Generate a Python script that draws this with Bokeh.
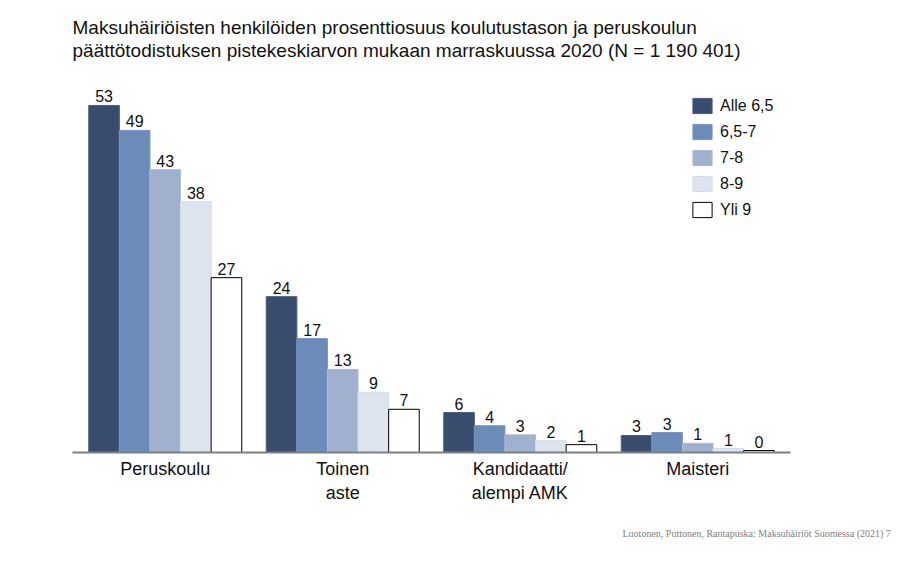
from bokeh.plotting import figure
from bokeh.models import ColumnDataSource, Range1d, FactorRange, Title, Legend, LegendItem, Label
from bokeh.transform import dodge
from bokeh.core.properties import value
from bokeh.embed import file_html
from bokeh.resources import INLINE

# ---- data ----
categories = ["Peruskoulu", "Toinen\naste", "Kandidaatti/\nalempi AMK", "Maisteri"]
series_names = ["Alle 6,5", "6,5-7", "7-8", "8-9", "Yli 9"]
alle_65 = [53.0, 23.8, 6.1, 2.6]
v65_7 = [49.2, 17.4, 4.1, 3.05]
v7_8 = [43.2, 12.7, 2.7, 1.4]
v8_9 = [38.3, 9.2, 1.8, 0.6]
yli_9 = [26.7, 6.6, 1.2, 0.3]
series_values = [alle_65, v65_7, v7_8, v8_9, yli_9]

title_line1 = "Maksuhäiriöisten henkilöiden prosenttiosuus koulutustason ja peruskoulun"
title_line2 = "päättötodistuksen pistekeskiarvon mukaan marraskuussa 2020 (N = 1 190 401)"
credit = "Luotonen, Puttonen, Rantapuska: Maksuhäiriöt Suomessa (2021) 7"

fills = ["#384c6d", "#6b8bb9", "#9fb1cf", "#dde4ef", "#ffffff"]
lines = ["#4a5d7e", "#7b98c2", "#aebdd7", "#d3dbe8", "#000000"]

FONT = "Liberation Sans"

data = {"cat": categories}
for i, vals in enumerate(series_values):
    data[f"s{i}"] = vals
    data[f"l{i}"] = [str(int(round(v))) for v in vals]
source = ColumnDataSource(data)

p = figure(width=898, height=559, output_backend="svg", toolbar_location=None,
           x_range=FactorRange(*categories, range_padding=0.0225, range_padding_units="absolute"),
           y_range=Range1d(0, 67.5),
           min_border_left=72, min_border_right=108,
           min_border_top=10, min_border_bottom=107)
p.outline_line_color = None
p.grid.visible = False
p.yaxis.visible = False
p.background_fill_color = "white"

bw = 0.1724
items = []
for i in range(5):
    off = (i - 2) * bw
    r = p.vbar(x=dodge("cat", off, range=p.x_range), top=f"s{i}", width=bw, bottom=0,
               source=source, fill_color=fills[i], line_color=lines[i], line_width=1)
    items.append(LegendItem(label=series_names[i], renderers=[r]))
    p.text(x=dodge("cat", off, range=p.x_range), y=f"s{i}", text=f"l{i}", source=source,
           text_align="center", text_baseline="alphabetic", y_offset=-9,
           text_font=value(FONT), text_font_size="16px", text_color="#111111")

legend = Legend(items=items, location=(618, 233), orientation="vertical",
                glyph_width=24, glyph_height=19, label_height=19, spacing=7,
                padding=0, margin=0, label_standoff=6,
                label_text_font=FONT, label_text_font_size="16px", label_text_color="#111111",
                border_line_color=None, background_fill_alpha=0)
p.add_layout(legend, "center")

ax = p.xaxis[0]
ax.axis_line_color = "#7f7f7f"
ax.axis_line_width = 2
ax.major_tick_line_color = None
ax.minor_tick_line_color = None
ax.major_label_standoff = 0
ax.major_label_text_font = FONT
ax.major_label_text_font_size = "18px"
ax.major_label_text_color = "#111111"

for txt, ypos in ((title_line1, 425), (title_line2, 402)):
    p.add_layout(Label(x=0, y=ypos, x_units="screen", y_units="screen", text=txt,
                       text_font=FONT, text_font_size="19px", text_color="#111111",
                       text_baseline="middle"))

p.add_layout(Title(text=credit, align="left", offset=550, standoff=40,
                   text_font="Liberation Serif", text_font_size="10px", text_font_style="normal",
                   text_color="#808080"), "below")

open("out.html", "w").write(file_html(p, INLINE))
